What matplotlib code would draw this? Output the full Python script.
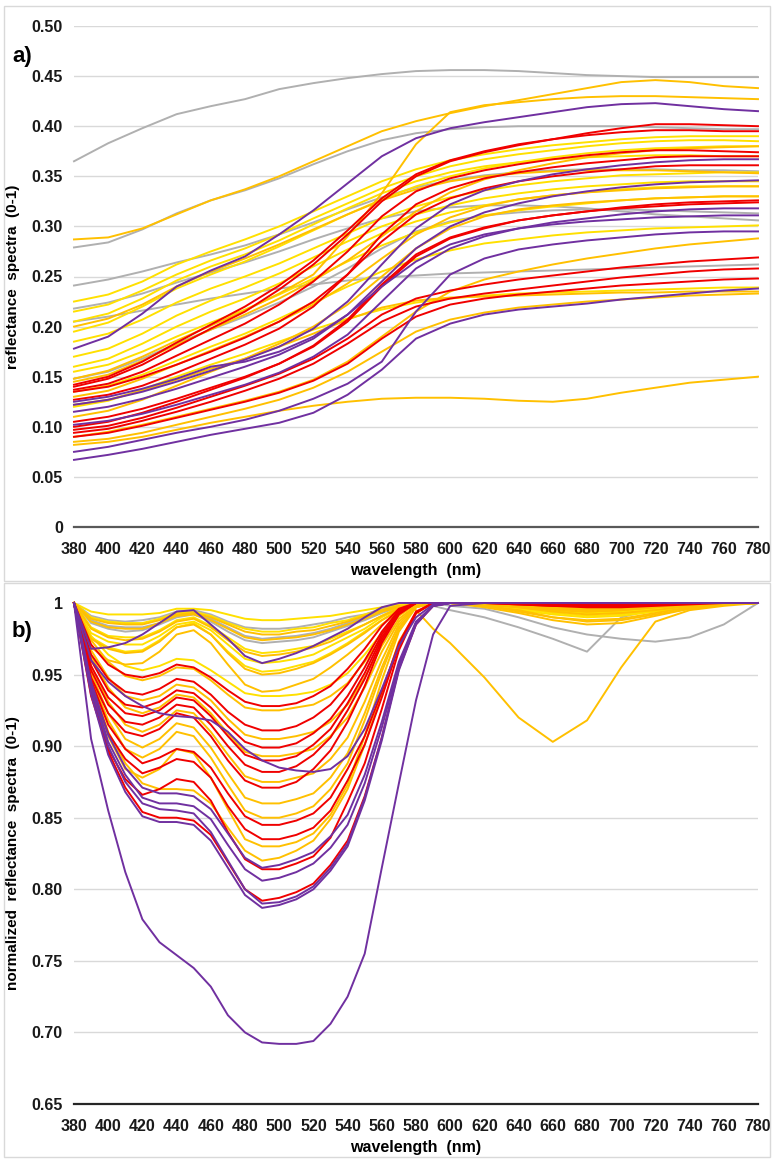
import matplotlib
matplotlib.use("Agg")
import matplotlib.pyplot as plt
from matplotlib.patches import Rectangle

plt.rcParams['font.family'] = ['Liberation Sans', 'DejaVu Sans']
plt.rcParams['font.weight'] = 'bold'

wavelength = list(range(380, 781, 20))
# panel b is read every 10 nm up to 600 nm (where the dips are), then every 20 nm
wavelength_b = list(range(380, 601, 10)) + list(range(620, 781, 20))

GRAY = '#b0b0b0'
YELLOW = '#ffe000'
ORANGE = '#ffc000'
RED = '#f00000'
PURPLE = '#7030a0'

# ---- panel a: reflectance spectra ----
refl_gray = [
    [0.365, 0.383, 0.398, 0.412, 0.420, 0.427, 0.437, 0.443, 0.448, 0.452, 0.455, 0.456, 0.456, 0.455, 0.453, 0.451, 0.450, 0.449, 0.449, 0.449, 0.449],
    [0.279, 0.284, 0.297, 0.313, 0.326, 0.336, 0.348, 0.362, 0.375, 0.386, 0.393, 0.397, 0.399, 0.400, 0.400, 0.400, 0.400, 0.399, 0.398, 0.397, 0.397],
    [0.241, 0.247, 0.255, 0.264, 0.272, 0.281, 0.292, 0.304, 0.317, 0.329, 0.339, 0.346, 0.351, 0.354, 0.356, 0.357, 0.357, 0.357, 0.356, 0.356, 0.355],
    [0.218, 0.224, 0.233, 0.244, 0.254, 0.264, 0.275, 0.287, 0.298, 0.308, 0.315, 0.319, 0.321, 0.321, 0.320, 0.318, 0.315, 0.312, 0.310, 0.308, 0.306],
    [0.205, 0.210, 0.216, 0.222, 0.228, 0.233, 0.238, 0.242, 0.246, 0.249, 0.251, 0.253, 0.254, 0.255, 0.256, 0.257, 0.258, 0.259, 0.260, 0.261, 0.262],
    [0.148, 0.155, 0.168, 0.183, 0.197, 0.210, 0.224, 0.240, 0.258, 0.278, 0.295, 0.305, 0.311, 0.314, 0.316, 0.317, 0.317, 0.316, 0.315, 0.314, 0.313],
]
refl_yellow = [
    [0.225, 0.232, 0.245, 0.262, 0.275, 0.287, 0.300, 0.315, 0.330, 0.345, 0.357, 0.366, 0.372, 0.377, 0.381, 0.384, 0.387, 0.389, 0.390, 0.390, 0.390],
    [0.215, 0.222, 0.236, 0.252, 0.266, 0.278, 0.292, 0.308, 0.323, 0.338, 0.350, 0.360, 0.367, 0.372, 0.376, 0.380, 0.383, 0.385, 0.386, 0.386, 0.385],
    [0.195, 0.204, 0.220, 0.238, 0.252, 0.265, 0.280, 0.296, 0.312, 0.327, 0.340, 0.350, 0.358, 0.364, 0.369, 0.373, 0.376, 0.378, 0.379, 0.380, 0.380],
    [0.185, 0.193, 0.207, 0.224, 0.238, 0.250, 0.263, 0.278, 0.293, 0.308, 0.320, 0.329, 0.336, 0.341, 0.345, 0.348, 0.351, 0.352, 0.353, 0.354, 0.354],
    [0.160, 0.168, 0.183, 0.200, 0.215, 0.228, 0.243, 0.260, 0.277, 0.293, 0.305, 0.314, 0.321, 0.327, 0.331, 0.334, 0.337, 0.339, 0.340, 0.340, 0.340],
    [0.155, 0.162, 0.175, 0.190, 0.204, 0.217, 0.232, 0.248, 0.265, 0.281, 0.294, 0.304, 0.311, 0.316, 0.320, 0.323, 0.326, 0.328, 0.329, 0.330, 0.330],
    [0.135, 0.141, 0.152, 0.166, 0.180, 0.193, 0.208, 0.224, 0.240, 0.255, 0.267, 0.276, 0.283, 0.287, 0.291, 0.294, 0.296, 0.298, 0.299, 0.300, 0.301],
    [0.120, 0.126, 0.137, 0.150, 0.162, 0.173, 0.185, 0.197, 0.208, 0.217, 0.224, 0.228, 0.231, 0.233, 0.234, 0.235, 0.236, 0.237, 0.238, 0.239, 0.239],
    [0.205, 0.213, 0.228, 0.246, 0.260, 0.272, 0.286, 0.302, 0.318, 0.333, 0.345, 0.354, 0.360, 0.364, 0.367, 0.369, 0.370, 0.371, 0.371, 0.370, 0.370],
    [0.170, 0.178, 0.193, 0.211, 0.226, 0.239, 0.253, 0.269, 0.285, 0.300, 0.312, 0.321, 0.328, 0.333, 0.337, 0.340, 0.342, 0.344, 0.345, 0.345, 0.345],
]
refl_orange = [
    [0.287, 0.289, 0.298, 0.312, 0.326, 0.337, 0.350, 0.365, 0.380, 0.395, 0.405, 0.413, 0.420, 0.426, 0.432, 0.438, 0.444, 0.446, 0.444, 0.440, 0.438],
    [0.148, 0.156, 0.170, 0.186, 0.201, 0.216, 0.233, 0.252, 0.290, 0.333, 0.382, 0.414, 0.421, 0.424, 0.427, 0.429, 0.430, 0.430, 0.429, 0.428, 0.427],
    [0.082, 0.085, 0.090, 0.097, 0.104, 0.110, 0.116, 0.121, 0.125, 0.128, 0.129, 0.129, 0.128, 0.126, 0.125, 0.128, 0.134, 0.139, 0.144, 0.147, 0.150],
    [0.090, 0.095, 0.102, 0.110, 0.118, 0.126, 0.135, 0.147, 0.165, 0.190, 0.215, 0.235, 0.247, 0.255, 0.262, 0.268, 0.273, 0.278, 0.282, 0.285, 0.288],
    [0.085, 0.088, 0.094, 0.102, 0.110, 0.118, 0.127, 0.139, 0.155, 0.175, 0.195, 0.207, 0.214, 0.219, 0.222, 0.225, 0.227, 0.229, 0.231, 0.232, 0.233],
    [0.145, 0.152, 0.166, 0.182, 0.197, 0.212, 0.228, 0.246, 0.266, 0.290, 0.315, 0.334, 0.347, 0.356, 0.363, 0.369, 0.373, 0.376, 0.378, 0.379, 0.380],
    [0.130, 0.136, 0.148, 0.162, 0.176, 0.190, 0.205, 0.222, 0.243, 0.268, 0.292, 0.309, 0.320, 0.327, 0.331, 0.334, 0.336, 0.338, 0.339, 0.340, 0.340],
    [0.110, 0.116, 0.127, 0.141, 0.155, 0.168, 0.183, 0.200, 0.222, 0.250, 0.278, 0.298, 0.310, 0.317, 0.321, 0.324, 0.326, 0.328, 0.329, 0.330, 0.330],
    [0.200, 0.208, 0.222, 0.240, 0.255, 0.268, 0.282, 0.297, 0.312, 0.326, 0.337, 0.345, 0.350, 0.353, 0.355, 0.356, 0.356, 0.356, 0.355, 0.354, 0.353],
    [0.122, 0.127, 0.136, 0.147, 0.158, 0.168, 0.180, 0.193, 0.207, 0.219, 0.226, 0.229, 0.230, 0.231, 0.232, 0.233, 0.234, 0.234, 0.235, 0.235, 0.235],
]
refl_red = [
    [0.140, 0.148, 0.162, 0.180, 0.198, 0.215, 0.237, 0.262, 0.292, 0.325, 0.350, 0.365, 0.374, 0.381, 0.387, 0.393, 0.398, 0.402, 0.402, 0.401, 0.400],
    [0.137, 0.143, 0.155, 0.171, 0.187, 0.203, 0.222, 0.245, 0.275, 0.310, 0.335, 0.348, 0.356, 0.362, 0.367, 0.371, 0.374, 0.376, 0.376, 0.375, 0.374],
    [0.127, 0.132, 0.141, 0.154, 0.168, 0.182, 0.198, 0.220, 0.252, 0.292, 0.322, 0.338, 0.348, 0.354, 0.359, 0.363, 0.366, 0.369, 0.370, 0.370, 0.370],
    [0.135, 0.140, 0.150, 0.162, 0.175, 0.189, 0.205, 0.225, 0.252, 0.285, 0.312, 0.328, 0.338, 0.345, 0.350, 0.354, 0.357, 0.360, 0.361, 0.361, 0.361],
    [0.105, 0.110, 0.118, 0.128, 0.139, 0.150, 0.163, 0.180, 0.205, 0.240, 0.270, 0.288, 0.298, 0.306, 0.311, 0.315, 0.319, 0.322, 0.324, 0.325, 0.326],
    [0.100, 0.105, 0.114, 0.125, 0.137, 0.149, 0.163, 0.181, 0.207, 0.242, 0.272, 0.289, 0.299, 0.306, 0.311, 0.315, 0.318, 0.320, 0.322, 0.323, 0.324],
    [0.097, 0.101, 0.109, 0.119, 0.130, 0.141, 0.153, 0.168, 0.188, 0.212, 0.228, 0.236, 0.242, 0.247, 0.251, 0.255, 0.259, 0.262, 0.265, 0.267, 0.269],
    [0.094, 0.098, 0.106, 0.115, 0.125, 0.136, 0.148, 0.163, 0.183, 0.205, 0.220, 0.228, 0.233, 0.237, 0.241, 0.245, 0.249, 0.252, 0.255, 0.257, 0.258],
    [0.090, 0.094, 0.101, 0.109, 0.117, 0.125, 0.134, 0.146, 0.163, 0.188, 0.210, 0.222, 0.228, 0.232, 0.235, 0.238, 0.241, 0.243, 0.245, 0.247, 0.248],
    [0.142, 0.150, 0.165, 0.184, 0.202, 0.220, 0.241, 0.266, 0.296, 0.328, 0.352, 0.366, 0.375, 0.382, 0.387, 0.391, 0.394, 0.396, 0.396, 0.395, 0.395],
]
refl_purple = [
    [0.178, 0.190, 0.213, 0.240, 0.256, 0.270, 0.292, 0.316, 0.343, 0.370, 0.388, 0.398, 0.404, 0.409, 0.414, 0.419, 0.422, 0.423, 0.420, 0.417, 0.415],
    [0.122, 0.127, 0.135, 0.145, 0.156, 0.167, 0.180, 0.198, 0.225, 0.262, 0.298, 0.322, 0.336, 0.345, 0.352, 0.357, 0.361, 0.364, 0.366, 0.367, 0.367],
    [0.115, 0.120, 0.128, 0.138, 0.149, 0.160, 0.172, 0.188, 0.212, 0.245, 0.278, 0.300, 0.314, 0.323, 0.330, 0.335, 0.339, 0.342, 0.344, 0.345, 0.346],
    [0.102, 0.106, 0.113, 0.122, 0.132, 0.142, 0.154, 0.170, 0.192, 0.225, 0.258, 0.278, 0.290, 0.298, 0.304, 0.308, 0.312, 0.315, 0.317, 0.318, 0.318],
    [0.075, 0.080, 0.087, 0.094, 0.100, 0.107, 0.116, 0.128, 0.143, 0.165, 0.215, 0.252, 0.268, 0.277, 0.282, 0.286, 0.289, 0.292, 0.294, 0.295, 0.295],
    [0.067, 0.072, 0.078, 0.085, 0.092, 0.098, 0.104, 0.114, 0.132, 0.157, 0.188, 0.203, 0.212, 0.217, 0.220, 0.223, 0.227, 0.230, 0.233, 0.236, 0.238],
    [0.125, 0.130, 0.138, 0.148, 0.160, 0.165, 0.175, 0.190, 0.212, 0.240, 0.265, 0.282, 0.292, 0.298, 0.302, 0.305, 0.307, 0.309, 0.310, 0.311, 0.311],
]

# ---- panel b: normalized reflectance spectra ----
norm_gray = [
    [1.000, 0.991, 0.988, 0.987, 0.988, 0.990, 0.994, 0.995, 0.992, 0.987, 0.983, 0.982, 0.982, 0.983, 0.985, 0.987, 0.990, 0.992, 0.996, 0.998, 1.000, 0.998, 0.995,
     0.990, 0.983, 0.975, 0.966, 0.990, 0.996, 0.998, 0.999, 1.000],
    [1.000, 0.988, 0.984, 0.983, 0.983, 0.986, 0.991, 0.993, 0.989, 0.983, 0.977, 0.975, 0.976, 0.977, 0.979, 0.982, 0.986, 0.990, 0.994, 0.998, 1.000, 1.000, 0.998,
     0.996, 0.990, 0.983, 0.978, 0.975, 0.973, 0.976, 0.985, 1.000],
    [1.000, 0.986, 0.982, 0.980, 0.981, 0.985, 0.990, 0.992, 0.987, 0.980, 0.974, 0.972, 0.973, 0.974, 0.976, 0.980, 0.984, 0.988, 0.993, 0.997, 0.999, 1.000, 1.000,
     0.999, 0.997, 0.995, 0.994, 0.995, 0.997, 0.998, 0.999, 1.000],
]
norm_yellow = [
    [1.000, 0.990, 0.987, 0.986, 0.986, 0.989, 0.993, 0.994, 0.991, 0.986, 0.982, 0.980, 0.980, 0.982, 0.983, 0.986, 0.988, 0.992, 0.995, 0.998, 1.000, 1.000, 1.000,
     0.998, 0.996, 0.994, 0.993, 0.994, 0.996, 0.998, 0.999, 1.000],
    [1.000, 0.983, 0.977, 0.976, 0.976, 0.981, 0.988, 0.990, 0.984, 0.976, 0.968, 0.965, 0.966, 0.968, 0.970, 0.975, 0.980, 0.985, 0.991, 0.997, 0.999, 1.000, 1.000,
     0.998, 0.995, 0.992, 0.990, 0.991, 0.994, 0.997, 0.999, 1.000],
    [1.000, 0.976, 0.969, 0.966, 0.967, 0.974, 0.983, 0.986, 0.978, 0.966, 0.956, 0.952, 0.953, 0.956, 0.959, 0.965, 0.972, 0.980, 0.988, 0.995, 0.999, 1.000, 1.000,
     0.999, 0.997, 0.995, 0.993, 0.993, 0.995, 0.998, 0.999, 1.000],
    [1.000, 0.994, 0.992, 0.992, 0.992, 0.993, 0.996, 0.996, 0.995, 0.992, 0.989, 0.988, 0.988, 0.989, 0.990, 0.991, 0.993, 0.995, 0.997, 0.999, 1.000, 1.000, 1.000,
     0.999, 0.997, 0.995, 0.994, 0.995, 0.997, 0.999, 1.000, 1.000],
    [1.000, 0.977, 0.964, 0.956, 0.953, 0.956, 0.961, 0.960, 0.953, 0.945, 0.937, 0.935, 0.935, 0.936, 0.938, 0.943, 0.951, 0.964, 0.979, 0.992, 0.999, 1.000, 1.000,
     0.999, 0.998, 0.996, 0.995, 0.996, 0.997, 0.999, 1.000, 1.000],
    [1.000, 0.979, 0.973, 0.971, 0.971, 0.977, 0.985, 0.987, 0.981, 0.971, 0.961, 0.958, 0.959, 0.961, 0.964, 0.970, 0.976, 0.982, 0.990, 0.996, 0.999, 1.000, 1.000,
     0.998, 0.996, 0.993, 0.991, 0.992, 0.995, 0.998, 0.999, 1.000],
]
norm_orange = [
    [1.000, 0.975, 0.968, 0.965, 0.966, 0.973, 0.983, 0.985, 0.978, 0.965, 0.954, 0.950, 0.951, 0.954, 0.958, 0.964, 0.971, 0.979, 0.988, 0.995, 0.999, 1.000, 1.000,
     0.999, 0.997, 0.994, 0.992, 0.993, 0.995, 0.998, 0.999, 1.000],
    [1.000, 0.969, 0.960, 0.957, 0.958, 0.966, 0.978, 0.981, 0.972, 0.957, 0.943, 0.938, 0.939, 0.943, 0.947, 0.955, 0.964, 0.974, 0.985, 0.994, 0.999, 1.000, 1.000,
     0.998, 0.995, 0.990, 0.987, 0.988, 0.992, 0.996, 0.999, 1.000],
    [1.000, 0.974, 0.959, 0.949, 0.946, 0.949, 0.955, 0.954, 0.946, 0.936, 0.927, 0.925, 0.925, 0.927, 0.929, 0.935, 0.944, 0.959, 0.976, 0.991, 0.999, 1.000, 1.000,
     0.999, 0.997, 0.995, 0.994, 0.995, 0.997, 0.999, 1.000, 1.000],
    [1.000, 0.967, 0.948, 0.935, 0.932, 0.935, 0.943, 0.941, 0.932, 0.919, 0.908, 0.905, 0.905, 0.907, 0.910, 0.917, 0.929, 0.948, 0.970, 0.989, 0.998, 1.000, 1.000,
     0.999, 0.998, 0.996, 0.995, 0.996, 0.998, 0.999, 1.000, 1.000],
    [1.000, 0.963, 0.941, 0.927, 0.923, 0.927, 0.936, 0.934, 0.923, 0.909, 0.896, 0.893, 0.893, 0.895, 0.898, 0.907, 0.920, 0.941, 0.966, 0.987, 0.998, 1.000, 1.000,
     1.000, 0.999, 0.998, 0.997, 0.997, 0.998, 0.999, 1.000, 1.000],
    [1.000, 0.951, 0.923, 0.905, 0.899, 0.905, 0.916, 0.913, 0.899, 0.881, 0.864, 0.860, 0.860, 0.863, 0.867, 0.878, 0.895, 0.923, 0.955, 0.983, 0.997, 1.000, 1.000,
     1.000, 0.999, 0.997, 0.996, 0.996, 0.998, 0.999, 1.000, 1.000],
    [1.000, 0.948, 0.918, 0.898, 0.892, 0.898, 0.910, 0.907, 0.892, 0.873, 0.855, 0.850, 0.850, 0.853, 0.858, 0.870, 0.888, 0.918, 0.952, 0.982, 0.997, 1.000, 1.000,
     1.000, 1.000, 0.999, 0.998, 0.998, 0.999, 1.000, 1.000, 1.000],
    [1.000, 0.941, 0.907, 0.884, 0.878, 0.884, 0.898, 0.895, 0.878, 0.856, 0.835, 0.830, 0.830, 0.833, 0.839, 0.852, 0.873, 0.907, 0.946, 0.980, 0.997, 1.000, 1.000,
     1.000, 1.000, 0.999, 0.998, 0.998, 0.999, 1.000, 1.000, 1.000],
    [1.000, 0.946, 0.910, 0.888, 0.874, 0.870, 0.870, 0.869, 0.860, 0.843, 0.827, 0.820, 0.822, 0.827, 0.834, 0.849, 0.870, 0.901, 0.937, 0.973, 0.993, 1.000, 1.000,
     1.000, 1.000, 1.000, 0.999, 0.999, 1.000, 1.000, 1.000, 1.000],
    [1.000, 0.956, 0.931, 0.915, 0.910, 0.915, 0.925, 0.923, 0.910, 0.894, 0.879, 0.875, 0.875, 0.878, 0.881, 0.891, 0.906, 0.931, 0.960, 0.985, 0.998, 1.000, 1.000,
     0.999, 0.998, 0.996, 0.994, 0.995, 0.997, 0.999, 1.000, 1.000],
    [1.000, 0.987, 0.983, 0.982, 0.982, 0.986, 0.991, 0.992, 0.988, 0.982, 0.976, 0.974, 0.975, 0.976, 0.978, 0.981, 0.985, 0.989, 0.994, 0.997, 1.000, 1.000, 1.000,
     0.997, 0.993, 0.988, 0.985, 0.986, 0.991, 0.996, 0.999, 1.000],
    [1.000, 0.989, 0.986, 0.985, 0.985, 0.988, 0.992, 0.993, 0.990, 0.985, 0.980, 0.978, 0.978, 0.980, 0.981, 0.984, 0.987, 0.991, 0.995, 0.998, 0.995, 0.982, 0.972,
     0.948, 0.920, 0.903, 0.918, 0.955, 0.987, 0.995, 0.998, 1.000],
    [1.000, 0.982, 0.976, 0.974, 0.975, 0.980, 0.987, 0.989, 0.983, 0.974, 0.966, 0.963, 0.964, 0.966, 0.969, 0.973, 0.979, 0.985, 0.991, 0.996, 0.999, 1.000, 1.000,
     0.998, 0.994, 0.990, 0.988, 0.989, 0.993, 0.997, 0.999, 1.000],
]
norm_red = [
    [1.000, 0.971, 0.957, 0.950, 0.948, 0.951, 0.957, 0.955, 0.948, 0.939, 0.931, 0.928, 0.928, 0.930, 0.935, 0.942, 0.954, 0.968, 0.984, 0.996, 1.000, 1.000, 1.000,
     1.000, 0.999, 0.998, 0.997, 0.997, 0.998, 0.999, 1.000, 1.000],
    [1.000, 0.964, 0.947, 0.938, 0.936, 0.940, 0.947, 0.945, 0.936, 0.924, 0.915, 0.911, 0.911, 0.914, 0.920, 0.929, 0.943, 0.960, 0.980, 0.995, 1.000, 1.000, 1.000,
     1.000, 1.000, 0.999, 0.998, 0.998, 0.999, 1.000, 1.000, 1.000],
    [1.000, 0.960, 0.939, 0.929, 0.927, 0.931, 0.939, 0.937, 0.927, 0.914, 0.903, 0.899, 0.899, 0.902, 0.909, 0.919, 0.935, 0.955, 0.978, 0.994, 1.000, 1.000, 1.000,
     1.000, 1.000, 0.999, 0.998, 0.998, 0.999, 1.000, 1.000, 1.000],
    [1.000, 0.953, 0.929, 0.917, 0.915, 0.920, 0.929, 0.927, 0.915, 0.900, 0.887, 0.882, 0.882, 0.886, 0.894, 0.906, 0.925, 0.947, 0.974, 0.993, 1.000, 1.000, 1.000,
     1.000, 1.000, 0.999, 0.998, 0.998, 0.999, 1.000, 1.000, 1.000],
    [1.000, 0.948, 0.923, 0.910, 0.907, 0.912, 0.923, 0.920, 0.907, 0.890, 0.876, 0.871, 0.871, 0.875, 0.884, 0.897, 0.917, 0.942, 0.972, 0.992, 1.000, 1.000, 1.000,
     1.000, 1.000, 1.000, 0.999, 0.999, 1.000, 1.000, 1.000, 1.000],
    [1.000, 0.946, 0.915, 0.898, 0.888, 0.892, 0.898, 0.896, 0.885, 0.867, 0.851, 0.845, 0.845, 0.848, 0.853, 0.864, 0.884, 0.907, 0.938, 0.972, 0.994, 1.000, 1.000,
     1.000, 1.000, 1.000, 1.000, 1.000, 1.000, 1.000, 1.000, 1.000],
    [1.000, 0.942, 0.909, 0.891, 0.881, 0.885, 0.891, 0.889, 0.878, 0.858, 0.842, 0.835, 0.835, 0.838, 0.843, 0.855, 0.876, 0.901, 0.934, 0.970, 0.993, 1.000, 1.000,
     1.000, 1.000, 1.000, 1.000, 1.000, 1.000, 1.000, 1.000, 1.000],
    [1.000, 0.935, 0.898, 0.877, 0.866, 0.870, 0.877, 0.875, 0.862, 0.840, 0.821, 0.814, 0.814, 0.818, 0.823, 0.836, 0.861, 0.888, 0.926, 0.967, 0.993, 1.000, 1.000,
     1.000, 1.000, 1.000, 1.000, 1.000, 1.000, 1.000, 1.000, 1.000],
    [1.000, 0.938, 0.896, 0.871, 0.854, 0.850, 0.850, 0.848, 0.838, 0.819, 0.800, 0.792, 0.794, 0.798, 0.804, 0.817, 0.834, 0.865, 0.906, 0.954, 0.985, 0.998, 1.000,
     1.000, 1.000, 1.000, 1.000, 1.000, 1.000, 1.000, 1.000, 1.000],
    [1.000, 0.956, 0.934, 0.923, 0.921, 0.925, 0.934, 0.932, 0.921, 0.907, 0.894, 0.890, 0.890, 0.893, 0.901, 0.912, 0.930, 0.951, 0.976, 0.993, 1.000, 1.000, 1.000,
     1.000, 0.999, 0.998, 0.998, 0.998, 0.999, 1.000, 1.000, 1.000],
]
norm_purple = [
    [1.000, 0.905, 0.855, 0.812, 0.779, 0.763, 0.754, 0.745, 0.732, 0.712, 0.700, 0.693, 0.692, 0.692, 0.694, 0.706, 0.725, 0.755, 0.815, 0.874, 0.932, 0.978, 0.998,
     1.000, 1.000, 1.000, 1.000, 1.000, 1.000, 1.000, 1.000, 1.000],
    [1.000, 0.936, 0.894, 0.868, 0.851, 0.847, 0.847, 0.845, 0.834, 0.815, 0.796, 0.787, 0.789, 0.793, 0.800, 0.813, 0.830, 0.862, 0.904, 0.953, 0.985, 0.998, 1.000,
     1.000, 1.000, 1.000, 1.000, 1.000, 1.000, 1.000, 1.000, 1.000],
    [1.000, 0.940, 0.900, 0.875, 0.860, 0.856, 0.855, 0.853, 0.840, 0.820, 0.800, 0.790, 0.791, 0.795, 0.802, 0.815, 0.832, 0.864, 0.906, 0.955, 0.986, 0.998, 1.000,
     1.000, 1.000, 1.000, 1.000, 1.000, 1.000, 1.000, 1.000, 1.000],
    [1.000, 0.942, 0.903, 0.880, 0.864, 0.860, 0.860, 0.858, 0.849, 0.831, 0.814, 0.806, 0.808, 0.812, 0.818, 0.829, 0.845, 0.874, 0.913, 0.957, 0.986, 0.998, 1.000,
     1.000, 1.000, 1.000, 1.000, 1.000, 1.000, 1.000, 1.000, 1.000],
    [1.000, 0.945, 0.908, 0.885, 0.871, 0.867, 0.867, 0.865, 0.856, 0.839, 0.822, 0.815, 0.817, 0.821, 0.826, 0.837, 0.852, 0.880, 0.917, 0.959, 0.987, 0.998, 1.000,
     1.000, 1.000, 1.000, 1.000, 1.000, 1.000, 1.000, 1.000, 1.000],
    [1.000, 0.960, 0.945, 0.935, 0.928, 0.923, 0.921, 0.920, 0.918, 0.910, 0.898, 0.890, 0.885, 0.883, 0.882, 0.884, 0.893, 0.912, 0.940, 0.970, 0.990, 0.999, 1.000,
     1.000, 1.000, 1.000, 1.000, 1.000, 1.000, 1.000, 1.000, 1.000],
    [1.000, 0.968, 0.969, 0.972, 0.978, 0.986, 0.994, 0.995, 0.985, 0.975, 0.963, 0.958, 0.961, 0.965, 0.970, 0.976, 0.982, 0.990, 0.997, 1.000, 1.000, 1.000, 1.000,
     1.000, 1.000, 1.000, 1.000, 1.000, 1.000, 1.000, 1.000, 1.000],
]

yticks_a = [0, 0.05, 0.10, 0.15, 0.20, 0.25, 0.30, 0.35, 0.40, 0.45, 0.50]
ylabels_a = ['0', '0.05', '0.10', '0.15', '0.20', '0.25', '0.30', '0.35', '0.40', '0.45', '0.50']
yticks_b = [0.65, 0.70, 0.75, 0.80, 0.85, 0.90, 0.95, 1.0]
ylabels_b = ['0.65', '0.70', '0.75', '0.80', '0.85', '0.90', '0.95', '1']

W, H = 772, 1159
fig = plt.figure(figsize=(W / 100, H / 100), dpi=100)

# light frames around each panel
for y0, y1 in [(6, 581), (583, 1157)]:
    fig.patches.append(Rectangle((4 / W, 1 - y1 / H), 766 / W, (y1 - y0) / H,
                                 transform=fig.transFigure, fill=False,
                                 edgecolor='#d9d9d9', lw=1.0))

ax_a = fig.add_axes([74 / W, 1 - 527 / H, 684 / W, 501 / H])
ax_b = fig.add_axes([74 / W, 1 - 1104 / H, 684 / W, 501 / H])

groups_a = [(GRAY, refl_gray), (YELLOW, refl_yellow), (ORANGE, refl_orange),
            (RED, refl_red), (PURPLE, refl_purple)]
groups_b = [(GRAY, norm_gray), (YELLOW, norm_yellow), (ORANGE, norm_orange),
            (RED, norm_red), (PURPLE, norm_purple)]

for ax, xs, groups in [(ax_a, wavelength, groups_a), (ax_b, wavelength_b, groups_b)]:
    for color, curves in groups:
        for vals in curves:
            assert len(vals) == len(xs)
            ax.plot(xs, vals, color=color, lw=1.4, clip_on=False,
                    solid_joinstyle='round')

ax_a.set_ylim(0, 0.5)
ax_a.set_yticks(yticks_a, ylabels_a)
ax_b.set_ylim(0.65, 1.0)
ax_b.set_yticks(yticks_b, ylabels_b)

for ax, axis_col in [(ax_a, '#595959'), (ax_b, '#262626')]:
    ax.set_xlim(380, 780)
    ax.set_xticks(wavelength)
    ax.grid(axis='y', color='#d9d9d9', lw=1.0)
    ax.set_axisbelow(True)
    for s in ['top', 'right', 'left']:
        ax.spines[s].set_visible(False)
    ax.spines['bottom'].set_color(axis_col)
    ax.spines['bottom'].set_linewidth(1.6)
    ax.spines['bottom'].set_zorder(5)
    ax.tick_params(length=0, labelsize=11.5, colors='#1a1a1a')
    ax.tick_params(axis='x', pad=11)
    ax.tick_params(axis='y', pad=8)
    ax.set_xlabel('wavelength  (nm)', fontsize=11.5, fontweight='bold', labelpad=4)

ax_a.set_ylabel('reflectance  spectra  (0-1)', fontsize=11, fontweight='bold', labelpad=8)
ax_b.set_ylabel('normalized  reflectance  spectra  (0-1)', fontsize=11, fontweight='bold', labelpad=8)

fig.text(12 / W, 1 - 62 / H, 'a)', fontsize=16, fontweight='bold')
fig.text(12 / W, 1 - 637 / H, 'b)', fontsize=16, fontweight='bold')

fig.savefig('out.png', dpi=100)
